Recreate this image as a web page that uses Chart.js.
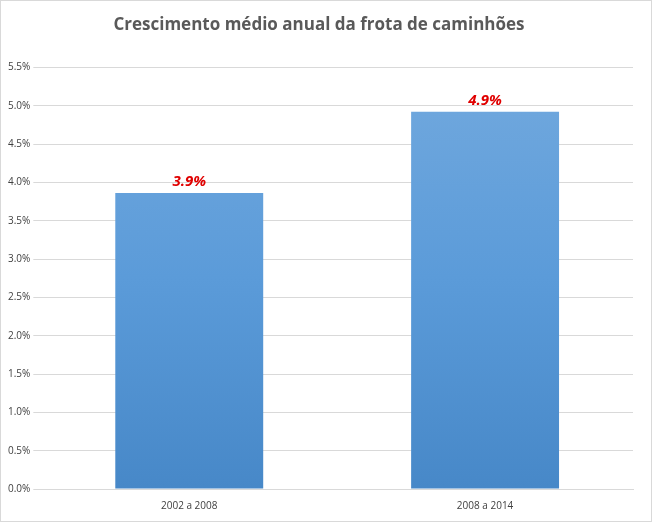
<!DOCTYPE html>
<html>
<head>
<meta charset="utf-8">
<script src="https://cdn.jsdelivr.net/npm/chart.js@4"></script>
<style>
  body { margin: 0; background: #fff; }
  #wrap { width: 650px; height: 520px; border: 1px solid #d9d9d9; }
</style>
</head>
<body>
<div id="wrap"><canvas id="chart"></canvas></div>
<script>
const categories = ['2002 a 2008', '2008 a 2014'];
const growth = [3.86, 4.92];
const valueLabels = ['3.9%', '4.9%'];

// red labels above the bars
const barLabels = {
    id: 'barLabels',
    afterDatasetsDraw(chart) {
        const ctx = chart.ctx;
        const meta = chart.getDatasetMeta(0);
        ctx.save();
        ctx.font = 'italic bold 15px "Open Sans"';
        ctx.fillStyle = '#e00000';
        ctx.textAlign = 'center';
        ctx.textBaseline = 'bottom';
        meta.data.forEach((bar, i) => {
            ctx.fillText(valueLabels[i], bar.x, bar.y - 4);
        });
        ctx.restore();
    }
};

const ctx = document.getElementById('chart').getContext('2d');
new Chart(ctx, {
    type: 'bar',
    data: {
        labels: categories,
        datasets: [{
            data: growth,
            backgroundColor: (c) => {
                const area = c.chart.chartArea;
                if (!area) return '#5b9bd5';
                const g = c.chart.ctx.createLinearGradient(0, area.top, 0, area.bottom);
                g.addColorStop(0, '#72a9de');
                g.addColorStop(0.5, '#5b9bd9');
                g.addColorStop(1, '#4788c8');
                return g;
            },
            barPercentage: 0.5,
            categoryPercentage: 1.0,
        }],
    },
    options: {
        responsive: true,
        maintainAspectRatio: false,
        animation: false,
        layout: { padding: { left: 4, right: 18, top: 6, bottom: 6 } },
        plugins: {
            legend: { display: false },
            tooltip: { enabled: false },
            title: {
                display: true,
                text: 'Crescimento médio anual da frota de caminhões',
                color: '#595959',
                font: { family: 'Open Sans', size: 17, weight: 'bold' },
                padding: { top: 8, bottom: 32 },
            },
        },
        scales: {
            x: {
                grid: { display: false },
                border: { color: '#d9d9d9' },
                ticks: { color: '#404040', font: { family: 'Open Sans', size: 10 } },
            },
            y: {
                min: 0,
                max: 5.5,
                ticks: {
                    stepSize: 0.5,
                    color: '#404040',
                    font: { family: 'Open Sans', size: 10 },
                    callback: (v) => v.toFixed(1) + '%',
                },
                grid: { color: '#d9d9d9' },
                border: { display: false },
            },
        },
    },
    plugins: [barLabels],
});
</script>
</body>
</html>
